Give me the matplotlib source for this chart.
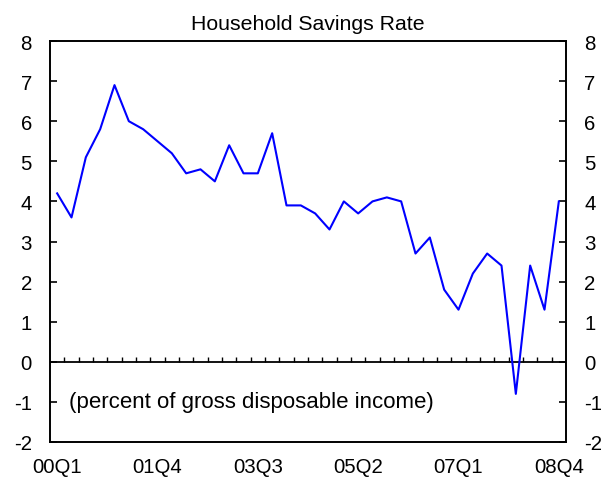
import matplotlib.pyplot as plt
import numpy as np

plt.rcParams['font.family'] = ['Liberation Sans', 'DejaVu Sans']
plt.rcParams['axes.unicode_minus'] = False

# quarterly household savings rate, 00Q1 .. 08Q4
quarters = [f"{y:02d}Q{q}" for y in range(0, 9) for q in range(1, 5)]
savings = [4.2, 3.6, 5.1, 5.8, 6.9, 6.0, 5.8, 5.5, 5.2, 4.7, 4.8, 4.5,
           5.4, 4.7, 4.7, 5.7, 3.9, 3.9, 3.7, 3.3, 4.0, 3.7, 4.0, 4.1,
           4.0, 2.7, 3.1, 1.8, 1.3, 2.2, 2.7, 2.4, -0.8, 2.4, 1.3, 4.0]
label_every = 7

fig = plt.figure(figsize=(6.06, 4.85), dpi=100)
ax = fig.add_axes([50 / 606, 1 - 443 / 485, 516 / 606, 401 / 485])

x = np.arange(len(quarters))
ax.plot(x, savings, color='#0000ff', lw=1.5, zorder=3)

ax.set_xlim(-0.5, len(quarters) - 0.5)
ax.set_ylim(-2, 8)

# zero line with small quarter ticks
ax.axhline(0, color='black', lw=1.3, zorder=2)
ax.vlines(x[:-1] + 0.5, 0, 0.13, color='black', lw=1.0, zorder=2)

ax.set_xticks(x[::label_every])
ax.set_xticklabels(quarters[::label_every])
ax.tick_params(axis='x', length=0, pad=11, labelsize=14.7)

ax.set_yticks(range(-2, 9))
ax.tick_params(axis='y', direction='in', length=5, width=1.2, pad=13,
               labelsize=14.7, right=True, labelright=True)

for s in ax.spines.values():
    s.set_linewidth(1.4)

ax.set_title('Household Savings Rate', fontsize=15.3, pad=9)
ax.text(0.85, -1, '(percent of gross disposable income)', fontsize=16,
        va='center', ha='left')

fig.savefig('out.png', dpi=100)
